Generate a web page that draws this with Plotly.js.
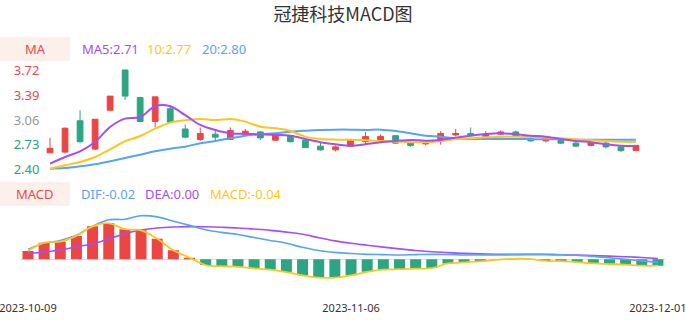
<!DOCTYPE html>
<html>
<head>
<meta charset="utf-8">
<script src="https://cdn.plot.ly/plotly-3.0.1.min.js"></script>
<style>html,body{margin:0;padding:0;background:#fff;}#chart{width:686px;height:320px;}</style>
</head>
<body>
<div id="chart"></div>
<script>
const dates = ["2023-10-09","2023-10-10","2023-10-11","2023-10-12","2023-10-13",
"2023-10-16","2023-10-17","2023-10-18","2023-10-19","2023-10-20",
"2023-10-23","2023-10-24","2023-10-25","2023-10-26","2023-10-27",
"2023-10-30","2023-10-31","2023-11-01","2023-11-02","2023-11-03",
"2023-11-06","2023-11-07","2023-11-08","2023-11-09","2023-11-10",
"2023-11-13","2023-11-14","2023-11-15","2023-11-16","2023-11-17",
"2023-11-20","2023-11-21","2023-11-22","2023-11-23","2023-11-24",
"2023-11-27","2023-11-28","2023-11-29","2023-11-30","2023-12-01"];

const openP  = [2.62,2.63,3.05,2.67,3.19,3.73,3.36,3.04,3.21,2.94,
                2.80,2.87,2.80,2.87,2.90,2.79,2.85,2.79,2.71,2.66,
                2.71,2.77,2.78,2.85,2.76,2.74,2.79,2.86,2.88,2.84,
                2.87,2.90,2.82,2.78,2.79,2.75,2.72,2.75,2.70,2.65];
const highP  = [2.82,2.96,3.19,3.07,3.38,3.73,3.37,3.37,3.26,3.00,
                2.96,2.94,2.96,2.94,2.91,2.87,2.86,2.80,2.76,2.72,
                2.80,2.90,2.87,2.86,2.79,2.76,2.91,2.94,2.96,2.91,
                2.92,2.92,2.82,2.82,2.80,2.77,2.76,2.77,2.71,2.72];
const lowP   = [2.62,2.61,2.75,2.66,3.19,3.33,3.04,2.96,3.02,2.82,
                2.78,2.78,2.79,2.85,2.79,2.78,2.76,2.69,2.65,2.64,
                2.71,2.74,2.75,2.74,2.70,2.72,2.73,2.84,2.85,2.84,
                2.86,2.85,2.77,2.76,2.74,2.70,2.71,2.68,2.63,2.64];
const closeP = [2.68,2.95,2.77,3.07,3.38,3.38,3.04,3.37,3.03,2.83,
                2.88,2.83,2.92,2.91,2.82,2.86,2.77,2.69,2.66,2.70,
                2.79,2.84,2.84,2.75,2.72,2.75,2.88,2.88,2.85,2.87,
                2.90,2.85,2.78,2.82,2.75,2.71,2.76,2.70,2.65,2.72];

const ma5  = [2.475,2.565,2.641,2.766,2.967,3.078,3.100,3.245,3.245,3.124,
              2.994,2.927,2.883,2.873,2.869,2.860,2.850,2.806,2.762,2.735,
              2.716,2.735,2.762,2.779,2.793,2.783,2.793,2.824,2.850,2.873,
              2.883,2.869,2.850,2.837,2.806,2.779,2.762,2.735,2.716,2.712];
const ma10 = [2.408,2.454,2.498,2.565,2.668,2.775,2.846,2.944,3.025,3.057,
              3.074,3.060,3.074,3.038,2.971,2.950,2.913,2.837,2.806,2.797,
              2.797,2.789,2.779,2.770,2.762,2.762,2.779,2.802,2.815,2.829,
              2.833,2.837,2.833,2.824,2.815,2.802,2.789,2.779,2.770,2.765];
const ma20 = [2.408,2.417,2.440,2.467,2.507,2.552,2.596,2.641,2.676,2.703,
              2.749,2.779,2.815,2.850,2.869,2.883,2.904,2.917,2.927,2.931,
              2.931,2.927,2.931,2.913,2.883,2.850,2.837,2.815,2.806,2.806,
              2.806,2.806,2.804,2.802,2.802,2.797,2.797,2.795,2.794,2.795];

const dif  = [0.062,0.100,0.118,0.150,0.207,0.247,0.250,0.272,0.265,0.238,
              0.212,0.185,0.168,0.155,0.136,0.118,0.100,0.075,0.055,0.043,
              0.036,0.031,0.029,0.027,0.029,0.031,0.030,0.027,0.027,0.027,
              0.028,0.030,0.031,0.028,0.025,0.018,0.010,0.000,-0.010,-0.019];
const dea  = [0.037,0.046,0.058,0.078,0.097,0.128,0.160,0.183,0.196,0.202,
              0.204,0.203,0.200,0.196,0.189,0.181,0.170,0.156,0.135,0.115,
              0.100,0.088,0.076,0.065,0.055,0.047,0.042,0.037,0.034,0.032,
              0.031,0.031,0.030,0.028,0.026,0.023,0.020,0.016,0.011,0.005];
const macd = [0.052,0.104,0.110,0.146,0.206,0.225,0.188,0.181,0.129,0.056,
              0.010,-0.036,-0.043,-0.047,-0.057,-0.065,-0.080,-0.100,-0.114,-0.114,
              -0.100,-0.078,-0.064,-0.062,-0.058,-0.055,-0.026,-0.019,-0.013,-0.003,
              0.003,0.002,-0.010,-0.012,-0.018,-0.026,-0.030,-0.033,-0.040,-0.040];

const priceTicks = [2.40, 2.73, 3.06, 3.39, 3.72];
const priceTickColors = ["#2aa57d","#2aa57d","#999999","#f04848","#f04848"];
const dateTickVals = ["2023-10-09","2023-11-06","2023-12-01"];

const RED = "#ec4545", GREEN = "#2ca583";
const PURPLE = "#a34dff", YELLOW = "#ffc61a", BLUE = "#55a4f7";
const FONT = "Noto Sans, DejaVu Sans, sans-serif";

const traces = [
  {type:"candlestick", x:dates, open:openP, high:highP, low:lowP, close:closeP,
   xaxis:"x", yaxis:"y",
   increasing:{line:{color:RED,width:1}, fillcolor:RED},
   decreasing:{line:{color:GREEN,width:1}, fillcolor:GREEN},
   whiskerwidth:0, hoverinfo:"skip", showlegend:false},
  {type:"scatter", mode:"lines", x:dates, y:ma20, xaxis:"x", yaxis:"y",
   line:{color:BLUE,width:2,shape:"spline"}, hoverinfo:"skip", showlegend:false},
  {type:"scatter", mode:"lines", x:dates, y:ma10, xaxis:"x", yaxis:"y",
   line:{color:YELLOW,width:2,shape:"spline"}, hoverinfo:"skip", showlegend:false},
  {type:"scatter", mode:"lines", x:dates, y:ma5, xaxis:"x", yaxis:"y",
   line:{color:PURPLE,width:2,shape:"spline"}, hoverinfo:"skip", showlegend:false},
  {type:"bar", x:dates, y:macd, xaxis:"x2", yaxis:"y2",
   marker:{color:macd.map(v => v >= 0 ? RED : GREEN), line:{width:0}},
   hoverinfo:"skip", showlegend:false},
  {type:"scatter", mode:"lines", x:dates, y:dea, xaxis:"x2", yaxis:"y2",
   line:{color:PURPLE,width:1.6,shape:"spline"}, hoverinfo:"skip", showlegend:false},
  {type:"scatter", mode:"lines", x:dates, y:dif, xaxis:"x2", yaxis:"y2",
   line:{color:BLUE,width:1.6,shape:"spline"}, hoverinfo:"skip", showlegend:false},
  {type:"scatter", mode:"lines", x:dates, y:macd, xaxis:"x2", yaxis:"y2",
   line:{color:YELLOW,width:1.8,shape:"spline"}, hoverinfo:"skip", showlegend:false}
];

const layout = {
  width:686, height:320,
  margin:{l:0,r:0,t:0,b:0},
  paper_bgcolor:"#fff", plot_bgcolor:"#fff",
  font:{family:FONT, color:"#333"},
  showlegend:false,
  boxgap:0.45,
  bargap:0.32,
  title:{text:"冠捷科技MACD图", x:0.5, xanchor:"center", y:0.953, yanchor:"middle",
         font:{family:"Noto Sans CJK SC, Noto Sans, sans-serif", size:18, color:"#333"}},
  xaxis:{type:"category", domain:[0.06194,0.93805], anchor:"y", range:[-0.5,39.5],
         rangeslider:{visible:false},
         showticklabels:false, showgrid:false, zeroline:false, showline:false, ticks:""},
  yaxis:{domain:[0.4430,0.8070], range:[2.28,3.84], anchor:"x",
         tickmode:"array", tickvals:priceTicks,
         ticktext:priceTicks.map((v,i)=>'<span style="color:'+priceTickColors[i]+'">'+v.toFixed(2)+'</span>'),
         tickfont:{size:13, family:FONT}, ticks:"", ticklabelstandoff:2,
         showgrid:false, zeroline:false, showline:false},
  xaxis2:{type:"category", domain:[0.02901,0.97085], anchor:"y2", range:[-0.5,39.5],
          tickmode:"array", tickvals:dateTickVals, ticktext:dateTickVals,
          tickfont:{size:11, family:FONT, color:"#333"}, ticks:"", ticklabelstandoff:17,
          showgrid:false, zeroline:false, showline:false},
  yaxis2:{domain:[0.1147,0.3397], range:[-0.15,0.30], anchor:"x2",
          showticklabels:false, ticks:"", showgrid:false,
          zeroline:true, zerolinecolor:"#e0e0e0", zerolinewidth:1, showline:false},
  shapes:[
    {type:"rect", xref:"paper", yref:"paper", x0:0, x1:70/686, y0:1-61/320, y1:1-37/320,
     fillcolor:"#fdf0eb", line:{width:0}, layer:"below"},
    {type:"rect", xref:"paper", yref:"paper", x0:0, x1:70/686, y0:1-206/320, y1:1-182/320,
     fillcolor:"#fdf0eb", line:{width:0}, layer:"below"}
  ],
  annotations:[
    {text:"MA", xref:"paper", yref:"paper", x:35/686, y:1-49/320, xanchor:"center", yanchor:"middle",
     showarrow:false, font:{size:13, color:"#f04848"}},
    {text:"MA5:2.71", xref:"paper", yref:"paper", x:80/686, y:1-49/320, xanchor:"left", yanchor:"middle",
     showarrow:false, font:{size:13, color:PURPLE}},
    {text:"10:2.77", xref:"paper", yref:"paper", x:145/686, y:1-49/320, xanchor:"left", yanchor:"middle",
     showarrow:false, font:{size:13, color:YELLOW}},
    {text:"20:2.80", xref:"paper", yref:"paper", x:200/686, y:1-49/320, xanchor:"left", yanchor:"middle",
     showarrow:false, font:{size:13, color:BLUE}},
    {text:"MACD", xref:"paper", yref:"paper", x:35/686, y:1-194/320, xanchor:"center", yanchor:"middle",
     showarrow:false, font:{size:13, color:"#f04848"}},
    {text:"DIF:-0.02", xref:"paper", yref:"paper", x:79/686, y:1-194/320, xanchor:"left", yanchor:"middle",
     showarrow:false, font:{size:13, color:BLUE}},
    {text:"DEA:0.00", xref:"paper", yref:"paper", x:143/686, y:1-194/320, xanchor:"left", yanchor:"middle",
     showarrow:false, font:{size:13, color:PURPLE}},
    {text:"MACD:-0.04", xref:"paper", yref:"paper", x:208/686, y:1-194/320, xanchor:"left", yanchor:"middle",
     showarrow:false, font:{size:13, color:YELLOW}}
  ]
};

Plotly.newPlot("chart", traces, layout, {staticPlot:true, displayModeBar:false});
</script>
</body>
</html>
